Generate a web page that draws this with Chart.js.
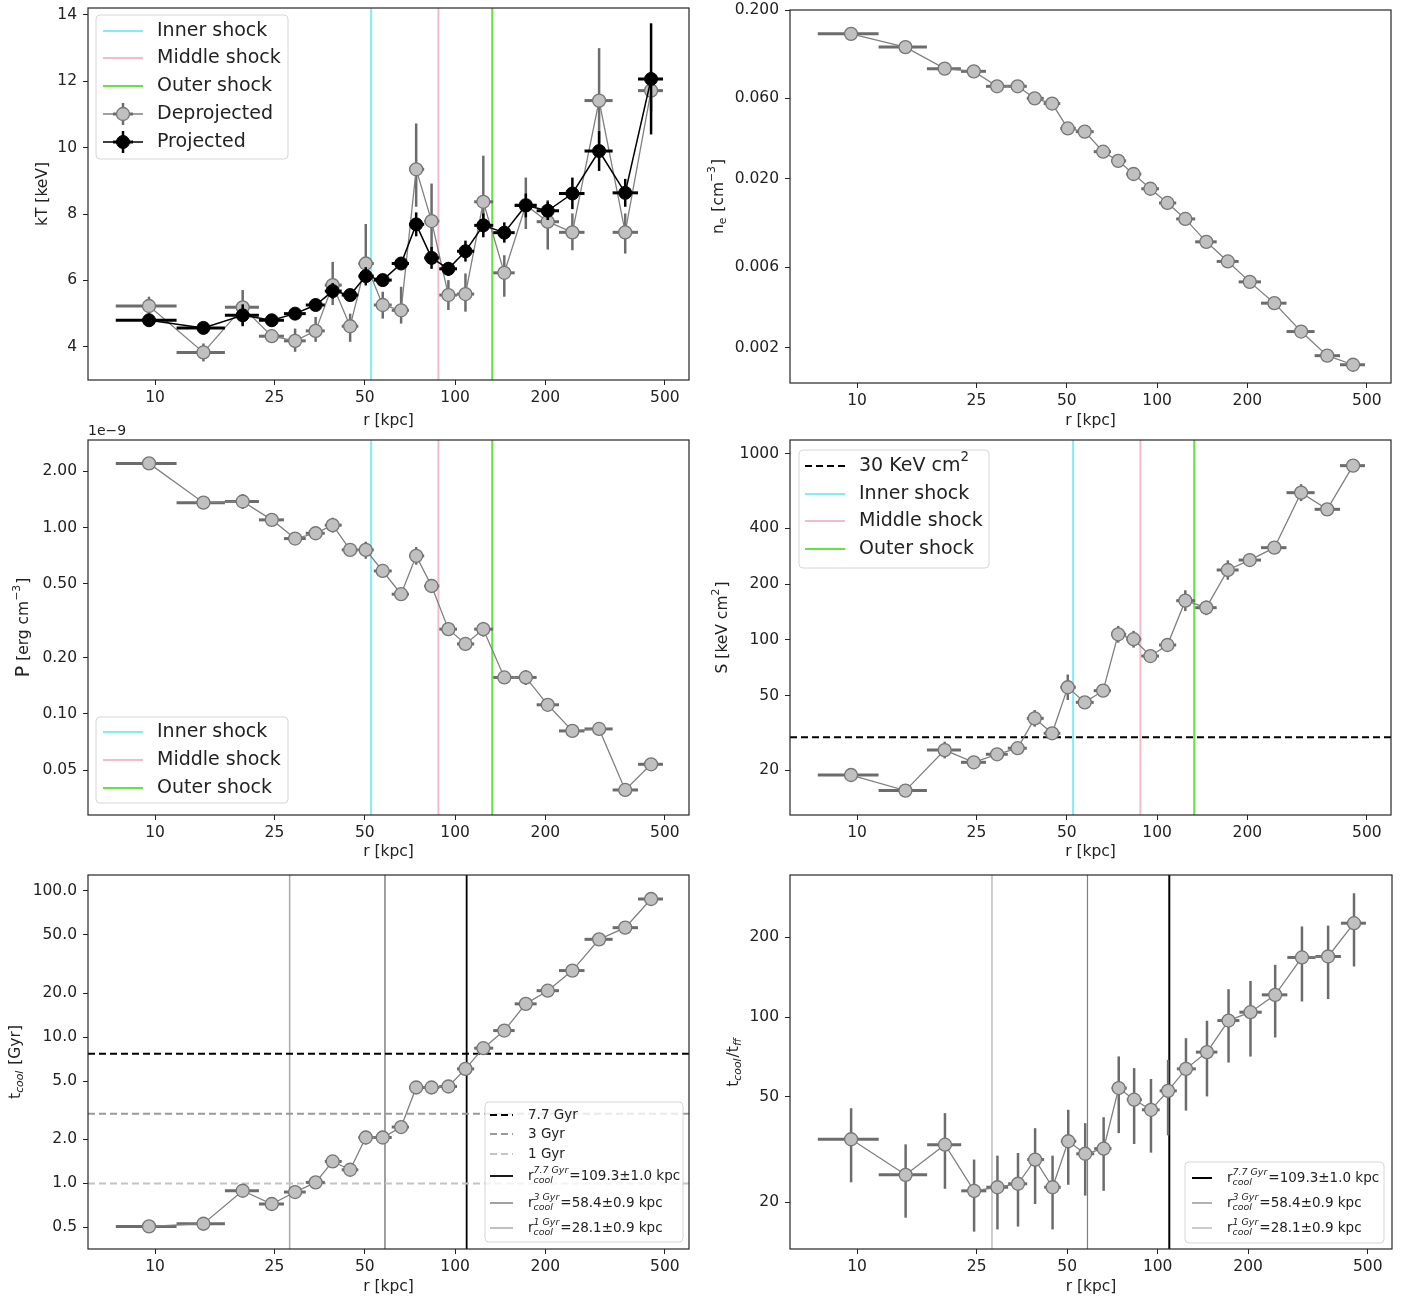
<!DOCTYPE html>
<html>
<head>
<meta charset="utf-8">
<script src="https://cdn.jsdelivr.net/npm/chart.js@4.4.1/dist/chart.umd.min.js"></script>
<style>
  body { margin: 0; background: #fff; width: 1413px; height: 1303px; position: relative; overflow: hidden; }
  canvas { position: absolute; }
</style>
</head>
<body>
<canvas id="kT" width="700" height="432" style="left:0;top:0"></canvas>
<canvas id="ne" width="713" height="432" style="left:700px;top:0"></canvas>
<canvas id="pres" width="700" height="435" style="left:0;top:425px"></canvas>
<canvas id="entr" width="713" height="435" style="left:700px;top:425px"></canvas>
<canvas id="tcool" width="700" height="443" style="left:0;top:860px"></canvas>
<canvas id="ratio" width="713" height="443" style="left:700px;top:860px"></canvas>
<script>
"use strict";

// ---- data ----
const radius = [9.55, 14.5, 19.6, 24.5, 29.3, 34.3, 39.1, 44.7, 50.4, 57.4, 66.1, 74.2, 83.5, 95.0, 108.3, 124.2, 145.9, 172.1, 203.6, 246, 302, 369, 450];
const binLow = [7.4, 11.8, 17.1, 22.2, 26.9, 31.8, 36.8, 41.9, 47.6, 53.6, 61.5, 70.2, 78.9, 88.6, 101.5, 115.8, 134, 158, 187, 222, 270, 335, 407];
const binHigh = [11.8, 17.1, 22.2, 26.9, 31.8, 36.8, 41.9, 47.6, 53.6, 61.5, 70.2, 78.9, 88.6, 101.5, 115.8, 134, 158, 187, 222, 270, 335, 407, 493];

const ktDeproj = [5.23, 3.83, 5.19, 4.32, 4.18, 4.48, 5.86, 4.62, 6.51, 5.26, 5.10, 9.35, 7.79, 5.56, 5.59, 8.37, 6.23, 8.27, 7.77, 7.45, 11.42, 7.45, 11.72];
const ktDeprojLow = [4.92, 3.56, 4.65, 4.12, 3.85, 4.15, 5.26, 4.15, 6.06, 4.85, 4.70, 8.22, 6.61, 5.11, 5.06, 7.42, 5.51, 7.55, 6.93, 6.91, 10.13, 6.81, 11.1];
const ktDeprojHigh = [5.51, 4.10, 5.71, 4.52, 4.55, 4.90, 6.56, 5.00, 7.70, 5.66, 5.81, 10.73, 8.92, 6.01, 6.21, 9.76, 6.76, 9.10, 8.42, 8.02, 13.0, 8.02, 12.3];
const ktProj = [4.80, 4.57, 4.95, 4.80, 5.00, 5.26, 5.68, 5.56, 6.13, 6.01, 6.51, 7.69, 6.68, 6.35, 6.88, 7.66, 7.44, 8.26, 8.10, 8.62, 9.90, 8.64, 12.07];
const ktProjLow = [4.70, 4.47, 4.62, 4.70, 4.88, 5.14, 5.45, 5.41, 5.85, 5.86, 6.36, 7.33, 6.35, 6.14, 6.57, 7.30, 7.14, 7.90, 7.82, 8.15, 9.30, 8.22, 10.40];
const ktProjHigh = [4.90, 4.67, 5.28, 4.90, 5.12, 5.38, 5.92, 5.71, 6.40, 6.16, 6.66, 8.05, 7.01, 6.56, 7.20, 8.02, 7.75, 8.62, 8.38, 9.10, 10.50, 9.06, 13.75];

const density = [0.1445, 0.1206, 0.0899, 0.0867, 0.0707, 0.0707, 0.060, 0.0559, 0.0398, 0.0381, 0.0290, 0.0256, 0.0214, 0.0175, 0.01442, 0.0116, 0.00849, 0.0065, 0.00492, 0.00368, 0.0025, 0.0018, 0.00159];

// pressure in units of 1e-9 erg cm^-3
const pressure = [2.21, 1.36, 1.38, 1.10, 0.873, 0.932, 1.03, 0.759, 0.759, 0.585, 0.439, 0.705, 0.486, 0.285, 0.2375, 0.285, 0.157, 0.157, 0.112, 0.0811, 0.0831, 0.0391, 0.0537];
const pressureLow = [2.08, 1.28, 1.26, 1.05, 0.82, 0.885, 0.94, 0.715, 0.68, 0.557, 0.413, 0.632, 0.447, 0.268, 0.224, 0.26, 0.145, 0.143, 0.104, 0.078, 0.0765, 0.0372, 0.0506];
const pressureHigh = [2.35, 1.45, 1.51, 1.16, 0.93, 0.98, 1.13, 0.805, 0.84, 0.614, 0.466, 0.786, 0.528, 0.302, 0.252, 0.312, 0.169, 0.172, 0.121, 0.0845, 0.0903, 0.041, 0.057];

const entropy = [18.8, 15.5, 25.6, 22.0, 24.3, 26.2, 37.9, 31.5, 55.7, 46.2, 53.4, 107.3, 101, 82, 94, 162.7, 149.2, 237.9, 269, 313.6, 619.6, 504, 865.6];
const entropyLow = [18.2, 14.8, 23.1, 21.1, 23.1, 24.9, 34.2, 29.7, 47.6, 43.6, 49.6, 96.7, 91, 78.1, 87.3, 143, 136, 211, 248, 298, 558, 475, 816];
const entropyHigh = [19.4, 16.3, 28.4, 22.9, 25.5, 27.5, 42.0, 33.4, 65.2, 49.0, 57.5, 119, 112, 86.1, 101, 185, 163, 268, 292, 330, 688, 534, 918];

const tcool = [0.508, 0.53, 0.891, 0.723, 0.873, 1.016, 1.413, 1.24, 2.06, 2.06, 2.43, 4.53, 4.53, 4.6, 6.07, 8.41, 11.1, 16.9, 20.8, 28.55, 46.7, 56.1, 88.1];
const tcoolLow = [0.49, 0.51, 0.84, 0.69, 0.82, 0.955, 1.28, 1.17, 1.85, 1.94, 2.25, 4.09, 4.12, 4.25, 5.7, 7.65, 10.3, 15.4, 19.2, 26.8, 43.2, 52.7, 82.7];
const tcoolHigh = [0.53, 0.55, 0.95, 0.76, 0.93, 1.08, 1.55, 1.32, 2.29, 2.19, 2.62, 5.02, 4.98, 4.97, 6.46, 9.24, 12.0, 18.6, 22.5, 30.4, 50.5, 59.7, 93.8];

const ratio = [34.6, 25.4, 33.0, 22.1, 22.8, 23.5, 29.0, 22.8, 34.0, 30.5, 31.9, 54.0, 48.8, 44.7, 52.7, 63.8, 73.8, 97.1, 104.4, 121.4, 168, 169.4, 226.3];
const ratioLow = [23.8, 17.5, 22.5, 15.5, 15.8, 16.2, 19.7, 15.8, 23.3, 21.2, 22.1, 36.5, 33.2, 30.8, 35.8, 44.4, 50.2, 67.4, 71, 83.8, 114.6, 117, 155.3];
const ratioHigh = [45.3, 33.1, 43.4, 29.0, 30.0, 30.7, 38.1, 30.0, 44.7, 39.8, 41.9, 71.1, 64.2, 58.4, 69.0, 83.3, 96.9, 127.5, 137, 157.6, 220, 221.6, 293.5];

const shockRadii = [52.5, 88, 133];
const shockNames = ["Inner shock", "Middle shock", "Outer shock"];
const entropyFloor = 30;
const coolTimes = [7.7, 3, 1];
const coolRadii = [109.3, 58.4, 28.1];
const coolRadiiErr = ["1.0", "0.9", "0.9"];

const xMin = 5.98, xMax = 602;
const xTicks = [10, 25, 50, 100, 200, 500];
const ktTicks = [4, 6, 8, 10, 12, 14];
const neTicks = [0.2, 0.06, 0.02, 0.006, 0.002];
const neTickLabels = ["0.200", "0.060", "0.020", "0.006", "0.002"];
const presTicks = [2, 1, 0.5, 0.2, 0.1, 0.05];
const presTickLabels = ["2.00", "1.00", "0.50", "0.20", "0.10", "0.05"];
const entrTicks = [1000, 400, 200, 100, 50, 20];
const tcoolTicks = [100, 50, 20, 10, 5, 2, 1, 0.5];
const tcoolTickLabels = ["100.0", "50.0", "20.0", "10.0", "5.0", "2.0", "1.0", "0.5"];
const ratioTicks = [200, 100, 50, 20];

// ---- styles ----
const FONT = "'DejaVu Sans', sans-serif";
const shockColors = ["#80eef4", "#f4bcc8", "#5fe640"];
const coolColors = ["#000000", "#808080", "#aaaaaa"];
Chart.defaults.font.family = FONT;
Chart.defaults.font.size = 15.5;
Chart.defaults.color = "#222";

const deprojStyle = {
  borderColor: "#808080", borderWidth: 1.3,
  pointRadius: 6.5, pointBackgroundColor: "#c0c0c0", pointBorderColor: "#767676", pointBorderWidth: 1.3,
  errColor: "#6c6c6c", xErrWidth: 3, yErrWidth: 2.5
};
const projStyle = {
  borderColor: "#000", borderWidth: 1.5,
  pointRadius: 6.5, pointBackgroundColor: "#000", pointBorderColor: "#000", pointBorderWidth: 1,
  errColor: "#000", xErrWidth: 3, yErrWidth: 2.5
};

const pts = (ys) => radius.map((r, i) => ({ x: r, y: ys[i] }));

const vLine = (x, yMin, yMax, color, width, label, order) => ({
  data: [{ x: x, y: yMin }, { x: x, y: yMax }],
  borderColor: color, borderWidth: width, pointRadius: 0, order: order, legendText: label
});
const hLine = (y, color, width, label, order) => ({
  data: [{ x: xMin, y: y }, { x: xMax, y: y }],
  borderColor: color, borderWidth: width, borderDash: [7, 4], pointRadius: 0, order: order, legendText: label
});
const series = (ys, lo, hi, style, label, order) => Object.assign({
  data: pts(ys), xLo: binLow, xHi: binHigh, yLo: lo, yHi: hi, order: order, legendText: label
}, style);

// ---- rich text (sub / superscripts) ----
function rich(ctx, parts, size, x, y, draw) {
  let cx = x;
  parts.forEach((p) => {
    if (p.t !== undefined) {
      ctx.font = (p.bold ? "bold " : "") + (p.size || size) + "px " + FONT;
      if (draw) ctx.fillText(p.t, cx, y);
      cx += ctx.measureText(p.t).width;
    } else {
      const s = size * 0.7;
      ctx.font = (p.up ? "" : "italic ") + s + "px " + FONT;
      let w = 0;
      if (p.sup) {
        if (draw) ctx.fillText(p.sup, cx, y - size * 0.42);
        w = ctx.measureText(p.sup).width;
      }
      if (p.sub) {
        if (draw) ctx.fillText(p.sub, cx, y + size * 0.3);
        w = Math.max(w, ctx.measureText(p.sub).width);
      }
      cx += w + 1;
    }
  });
  return cx - x;
}
function richCentered(ctx, parts, size, x, y, rotate) {
  ctx.save();
  ctx.translate(x, y);
  if (rotate) ctx.rotate(-Math.PI / 2);
  const w = rich(ctx, parts, size, 0, 0, false);
  rich(ctx, parts, size, -w / 2, 0, true);
  ctx.restore();
}

// ---- plugins ----
const errorBars = {
  id: "errorBars",
  beforeDatasetDraw(chart, args) {
    const ds = chart.data.datasets[args.index];
    if (!ds.xLo && !ds.yLo) return;
    const xs = chart.scales.x, ys = chart.scales.y, ctx = chart.ctx;
    ctx.save();
    ctx.strokeStyle = ds.errColor;
    ds.data.forEach((p, i) => {
      const px = xs.getPixelForValue(p.x), py = ys.getPixelForValue(p.y);
      if (ds.xLo) {
        ctx.lineWidth = ds.xErrWidth;
        ctx.beginPath();
        ctx.moveTo(xs.getPixelForValue(ds.xLo[i]), py);
        ctx.lineTo(xs.getPixelForValue(ds.xHi[i]), py);
        ctx.stroke();
      }
      if (ds.yLo) {
        ctx.lineWidth = ds.yErrWidth;
        ctx.beginPath();
        ctx.moveTo(px, ys.getPixelForValue(ds.yLo[i]));
        ctx.lineTo(px, ys.getPixelForValue(ds.yHi[i]));
        ctx.stroke();
      }
    });
    ctx.restore();
  }
};

const frame = {
  id: "frame",
  afterDatasetsDraw(chart, args, o) {
    const ctx = chart.ctx, a = chart.chartArea;
    ctx.save();
    ctx.strokeStyle = "#262626";
    ctx.lineWidth = 1.2;
    ctx.strokeRect(a.left, a.top, a.right - a.left, a.bottom - a.top);
    ctx.fillStyle = "#222";
    ctx.textBaseline = "middle";
    richCentered(ctx, [{ t: "r [kpc]" }], 15.5, (a.left + a.right) / 2, o.xTitleY, false);
    richCentered(ctx, o.yTitle, 15.5, o.yTitleX, (a.top + a.bottom) / 2, true);
    if (o.offset) {
      ctx.font = "14px " + FONT;
      ctx.textAlign = "left";
      ctx.fillText(o.offset, a.left, a.top - 9);
    }
    ctx.restore();
  }
};

const boxLegend = {
  id: "boxLegend",
  afterDraw(chart, args, o) {
    if (!o.items) return;
    const ctx = chart.ctx;
    const [x0, y0, x1, y1] = o.box;
    ctx.save();
    ctx.beginPath();
    ctx.roundRect(x0, y0, x1 - x0, y1 - y0, 4);
    ctx.fillStyle = "rgba(255,255,255,0.8)";
    ctx.fill();
    ctx.strokeStyle = "#d6d6d6";
    ctx.lineWidth = 1;
    ctx.stroke();
    ctx.textBaseline = "middle";
    o.items.forEach((idx, k) => {
      const ds = chart.data.datasets[idx];
      const y = o.rows[k];
      const [sa, sb] = o.sample;
      ctx.strokeStyle = ds.borderColor;
      ctx.lineWidth = ds.borderWidth;
      ctx.setLineDash(ds.borderDash || []);
      ctx.beginPath();
      ctx.moveTo(sa, y);
      ctx.lineTo(sb, y);
      ctx.stroke();
      ctx.setLineDash([]);
      if (ds.pointRadius) {
        const m = (sa + sb) / 2;
        ctx.strokeStyle = ds.errColor;
        ctx.lineWidth = ds.xErrWidth;
        ctx.beginPath();
        ctx.moveTo(m - 10, y); ctx.lineTo(m + 10, y);
        ctx.stroke();
        ctx.lineWidth = ds.yErrWidth;
        ctx.beginPath();
        ctx.moveTo(m, y - 11); ctx.lineTo(m, y + 11);
        ctx.stroke();
        ctx.beginPath();
        ctx.arc(m, y, ds.pointRadius, 0, Math.PI * 2);
        ctx.fillStyle = ds.pointBackgroundColor;
        ctx.fill();
        ctx.strokeStyle = ds.pointBorderColor;
        ctx.lineWidth = ds.pointBorderWidth;
        ctx.stroke();
      }
      ctx.fillStyle = "#222";
      rich(ctx, ds.legendText, o.size, o.textX, y, true);
    });
    ctx.restore();
  }
};

// ---- chart factory ----
const tickGrid = { display: true, drawOnChartArea: false, drawTicks: true, tickLength: 5, color: "#222", lineWidth: 1 };
const zeroPad = (s) => { s.paddingTop = 0; s.paddingBottom = 0; s.paddingLeft = 0; s.paddingRight = 0; };

function makePanel(id, p) {
  const canvas = document.getElementById(id);
  const W = canvas.width, H = canvas.height;
  const [left, top, right, bottom] = p.area;
  return new Chart(canvas, {
    type: "line",
    data: { datasets: p.datasets },
    options: {
      responsive: false,
      animation: false,
      events: [],
      layout: { padding: { left: 0, top: top, right: W - right, bottom: 0 } },
      elements: { line: { tension: 0, fill: false } },
      plugins: {
        legend: { display: false },
        tooltip: { enabled: false },
        frame: p.titles,
        boxLegend: p.legend || {}
      },
      scales: {
        x: {
          type: "logarithmic", min: xMin, max: xMax,
          afterBuildTicks: (s) => { s.ticks = xTicks.map((v) => ({ value: v })); },
          afterFit: (s) => { s.height = H - bottom; zeroPad(s); },
          ticks: { callback: (v, i) => String(xTicks[i]), padding: 4, autoSkip: false, maxRotation: 0 },
          grid: tickGrid, border: { display: false }
        },
        y: {
          type: p.yType, min: p.yMin, max: p.yMax,
          afterBuildTicks: (s) => { s.ticks = p.yTicks.map((v) => ({ value: v })); },
          afterFit: (s) => { s.width = left; zeroPad(s); },
          ticks: { callback: (v, i) => p.yLabels[i], padding: 6, autoSkip: false },
          grid: tickGrid, border: { display: false }
        }
      }
    },
    plugins: [errorBars, frame, boxLegend]
  });
}

// ---- kT ----
const ktMin = 3.0, ktMax = 14.21;
makePanel("kT", {
  area: [88, 8, 689, 380],
  yType: "linear", yMin: ktMin, yMax: ktMax, yTicks: ktTicks, yLabels: ktTicks.map(String),
  datasets: [
    vLine(shockRadii[0], ktMin, ktMax, shockColors[0], 2, [{ t: shockNames[0] }], 3),
    vLine(shockRadii[1], ktMin, ktMax, shockColors[1], 2, [{ t: shockNames[1] }], 3),
    vLine(shockRadii[2], ktMin, ktMax, shockColors[2], 2, [{ t: shockNames[2] }], 3),
    series(ktDeproj, ktDeprojLow, ktDeprojHigh, deprojStyle, [{ t: "Deprojected" }], 2),
    series(ktProj, ktProjLow, ktProjHigh, projStyle, [{ t: "Projected" }], 1)
  ],
  titles: { xTitleY: 421, yTitleX: 43, yTitle: [{ t: "kT [keV]" }] },
  legend: { box: [96, 15, 288, 159], rows: [31, 58, 86, 114, 142], sample: [103, 143], textX: 157, size: 19, items: [0, 1, 2, 3, 4] }
});

// ---- electron density ----
makePanel("ne", {
  area: [90, 10, 691, 383],
  yType: "logarithmic", yMin: 0.00124, yMax: 0.2, yTicks: neTicks, yLabels: neTickLabels,
  datasets: [
    series(density, null, null, deprojStyle, [{ t: "Deprojected" }], 1)
  ],
  titles: { xTitleY: 421, yTitleX: 19, yTitle: [{ t: "n" }, { sub: "e", up: true }, { t: " [cm" }, { sup: "\u22123", up: true }, { t: "]" }] }
});

// ---- pressure ----
const pMin = 0.0287, pMax = 2.95;
makePanel("pres", {
  area: [88, 15, 689, 390],
  yType: "logarithmic", yMin: pMin, yMax: pMax, yTicks: presTicks, yLabels: presTickLabels,
  datasets: [
    vLine(shockRadii[0], pMin, pMax, shockColors[0], 2, [{ t: shockNames[0] }], 3),
    vLine(shockRadii[1], pMin, pMax, shockColors[1], 2, [{ t: shockNames[1] }], 3),
    vLine(shockRadii[2], pMin, pMax, shockColors[2], 2, [{ t: shockNames[2] }], 3),
    series(pressure, pressureLow, pressureHigh, deprojStyle, [{ t: "Deprojected" }], 1)
  ],
  titles: { xTitleY: 427, yTitleX: 24, offset: "1e\u22129", yTitle: [{ t: "P", size: 19 }, { t: " [erg cm" }, { sup: "\u22123", up: true }, { t: "]" }] },
  legend: { box: [96, 292, 288, 378], rows: [307, 335, 363], sample: [103, 143], textX: 157, size: 19, items: [0, 1, 2] }
});

// ---- entropy ----
const sMin = 11.46, sMax = 1189;
makePanel("entr", {
  area: [90, 15, 691, 390],
  yType: "logarithmic", yMin: sMin, yMax: sMax, yTicks: entrTicks, yLabels: entrTicks.map(String),
  datasets: [
    hLine(entropyFloor, "#000", 2, [{ t: "30 KeV cm" }, { sup: "2", up: true }], 3),
    vLine(shockRadii[0], sMin, sMax, shockColors[0], 2, [{ t: shockNames[0] }], 3),
    vLine(shockRadii[1], sMin, sMax, shockColors[1], 2, [{ t: shockNames[1] }], 3),
    vLine(shockRadii[2], sMin, sMax, shockColors[2], 2, [{ t: shockNames[2] }], 3),
    series(entropy, entropyLow, entropyHigh, deprojStyle, [{ t: "Deprojected" }], 1)
  ],
  titles: { xTitleY: 427, yTitleX: 23, yTitle: [{ t: "S [keV cm" }, { sup: "2", up: true }, { t: "]" }] },
  legend: { box: [99, 25, 289, 143], rows: [41, 69, 96, 124], sample: [105, 145], textX: 159, size: 19, items: [0, 1, 2, 3] }
});

// ---- cooling time ----
const coolLabel = (k) => [{ t: "r" }, { sup: coolTimes[k] + " Gyr", sub: "cool" }, { t: "=" + coolRadii[k] + "\u00b1" + coolRadiiErr[k] + " kpc" }];
const tMin = 0.356, tMax = 128.6;
makePanel("tcool", {
  area: [88, 15, 689, 389],
  yType: "logarithmic", yMin: tMin, yMax: tMax, yTicks: tcoolTicks, yLabels: tcoolTickLabels,
  datasets: [
    hLine(coolTimes[0], "#000", 2, [{ t: coolTimes[0] + " Gyr" }], 3),
    hLine(coolTimes[1], "#9a9a9a", 2, [{ t: coolTimes[1] + " Gyr" }], 3),
    hLine(coolTimes[2], "#c4c4c4", 2, [{ t: coolTimes[2] + " Gyr" }], 3),
    vLine(coolRadii[0], tMin, tMax, coolColors[0], 1.8, coolLabel(0), 3),
    vLine(coolRadii[1], tMin, tMax, coolColors[1], 1.5, coolLabel(1), 3),
    vLine(coolRadii[2], tMin, tMax, coolColors[2], 1.5, coolLabel(2), 3),
    series(tcool, tcoolLow, tcoolHigh, deprojStyle, [{ t: "Deprojected" }], 1)
  ],
  titles: { xTitleY: 427, yTitleX: 16, yTitle: [{ t: "t" }, { sub: "cool" }, { t: " [Gyr]" }] },
  legend: { box: [485, 242, 683, 382], rows: [255, 274, 294, 316, 343, 368], sample: [490, 513], textX: 528, size: 13.5, items: [0, 1, 2, 3, 4, 5] }
});

// ---- cooling / free-fall ----
const rMin = 13.33, rMax = 344;
makePanel("ratio", {
  area: [90, 15, 692, 389],
  yType: "logarithmic", yMin: rMin, yMax: rMax, yTicks: ratioTicks, yLabels: ratioTicks.map(String),
  datasets: [
    vLine(coolRadii[0], rMin, rMax, coolColors[0], 2, coolLabel(0), 3),
    vLine(coolRadii[1], rMin, rMax, coolColors[1], 1.2, coolLabel(1), 3),
    vLine(coolRadii[2], rMin, rMax, coolColors[2], 1.2, coolLabel(2), 3),
    series(ratio, ratioLow, ratioHigh, deprojStyle, [{ t: "Deprojected" }], 1)
  ],
  titles: { xTitleY: 427, yTitleX: 34, yTitle: [{ t: "t" }, { sub: "cool" }, { t: "/t" }, { sub: "ff" }] },
  legend: { box: [485, 302, 684, 383], rows: [318, 343, 368], sample: [492, 512], textX: 527, size: 13.5, items: [0, 1, 2] }
});
</script>
</body>
</html>
